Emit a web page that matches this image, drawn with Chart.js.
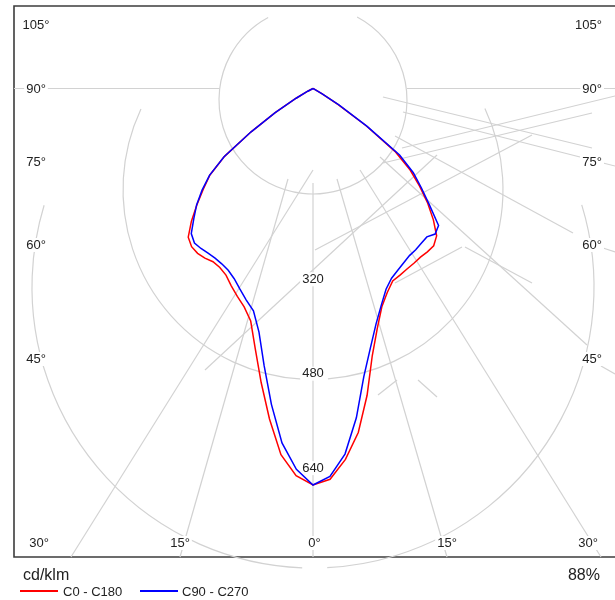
<!DOCTYPE html>
<html>
<head>
<meta charset="utf-8">
<script src="https://cdn.jsdelivr.net/npm/chart.js@4.4.1/dist/chart.umd.min.js"></script>
<style>
  html, body { margin: 0; padding: 0; background: #fff; }
  #wrap { position: relative; width: 615px; height: 600px; overflow: hidden;
          font-family: "Liberation Sans", Arial, sans-serif; color: #222; }
  #c { position: absolute; left: 0; top: 0; }
  .t { position: absolute; white-space: nowrap; line-height: 1; }
  .sw { position: absolute; height: 1.5px; }
</style>
</head>
<body>
<div id="wrap">
  <canvas id="c" width="615" height="600"></canvas>
  <div class="t" id="unit" style="left:23px; top:567px; font-size:16px;"></div>
  <div class="t" id="eff" style="right:15px; top:567px; font-size:16px;"></div>
  <div id="legend"></div>
</div>
<script>
// ---------------- data (cd/klm) ----------------
const gammaAngles = [0, 2.5, 5, 7.5, 10, 12.5, 15, 17.5, 20, 22.5, 25, 27.5, 30, 32.5, 35, 37.5,
                     40, 42.5, 45, 47.5, 50, 52.5, 55, 57.5, 60, 62.5, 65, 67.5, 70, 72.5, 75,
                     77.5, 80, 82.5, 85, 87.5, 90];
const c0   = [672, 663, 631, 588, 528, 464, 421, 388, 368, 353, 349, 345, 342, 339, 338, 336,
              326, 302, 275, 245, 215, 175, 110, 50, 18, 4, 0, 0, 0, 0, 0, 0, 0, 0, 0, 0, 0];
const c180 = [672, 657, 623, 565, 506, 452, 408, 388, 375, 362, 349, 342, 339, 341, 341, 338,
              329, 305, 278, 252, 228, 189, 128, 76, 33, 10, 0, 0, 0, 0, 0, 0, 0, 0, 0, 0, 0];
const c90  = [672, 658, 622, 563, 496, 450, 413, 385, 362, 348, 340, 333, 327, 324, 320, 317,
              322, 315, 279, 249, 222, 185, 112, 52, 18, 4, 0, 0, 0, 0, 0, 0, 0, 0, 0, 0, 0];
const c270 = [672, 646, 603, 540, 477, 423, 390, 376, 362, 349, 340, 335, 332, 331, 331, 330,
              321, 299, 279, 255, 229, 190, 128, 76, 33, 10, 0, 0, 0, 0, 0, 0, 0, 0, 0, 0, 0];
const planeLabels = ['C0 - C180', 'C90 - C270'];
const intensityTicks = [320, 480, 640];
const sideAngleLabels = ['105°', '90°', '75°', '60°', '45°'];
const bottomAngleLabels = ['30°', '15°', '0°', '15°', '30°'];
const unitLabel = 'cd/klm';
const efficiencyLabel = '88%';

// ---------------- build polar curves ----------------
function buildPlane(leftVals, rightVals) {
  const pts = [];
  for (let i = gammaAngles.length - 1; i >= 0; i--) {
    const a = gammaAngles[i] * Math.PI / 180;
    pts.push({ x: -leftVals[i] * Math.sin(a), y: -leftVals[i] * Math.cos(a) });
  }
  for (let i = 1; i < gammaAngles.length; i++) {
    const a = gammaAngles[i] * Math.PI / 180;
    pts.push({ x: rightVals[i] * Math.sin(a), y: -rightVals[i] * Math.cos(a) });
  }
  return pts;
}

// ---------------- layout ----------------
const PX_PER_CD = 0.59, OX = 313, OY = 88.5, W = 615, H = 600;

const gridPlugin = {
  id: 'polarGrid',
  beforeDatasetsDraw(chart) {
    const { ctx, scales: { x, y } } = chart;
    const px = v => x.getPixelForValue(v), py = v => y.getPixelForValue(v);
    const unit = px(1) - px(0);
    ctx.save();
    // plot frame
    ctx.strokeStyle = '#3c3c3c'; ctx.lineWidth = 1.6;
    ctx.beginPath();
    ctx.moveTo(W + 2, 6); ctx.lineTo(14, 6); ctx.lineTo(14, 557); ctx.lineTo(W + 2, 557);
    ctx.stroke();

    ctx.strokeStyle = '#d2d2d2'; ctx.lineWidth = 1.2;
    // circles (value units: centre y, radius, drawn arcs in degrees)
    const circles = [
      { cy: -19.5,  r: 159.3, arcs: [[-62, 241.5]] },
      { cy: -171.2, r: 322,   arcs: [[-25.2, 85.5], [93.3, 205.1]] },
      { cy: -336.4, r: 476.3, arcs: [[-17, 87.1], [92.2, 196.9]] }
    ];
    circles.forEach(c => c.arcs.forEach(([a0, a1]) => {
      ctx.beginPath();
      ctx.arc(px(0), py(c.cy), c.r * unit, a0 * Math.PI / 180, a1 * Math.PI / 180);
      ctx.stroke();
    }));
    // straight grid segments (value units)
    const segs = [
      [0, -160.2, 0, -794.1],
      [-42.4, -153.4, -225.4, -794.1], [40.7, -153.4, 227.1, -794.1],
      [0, -138.1, -410.2, -794.1], [79.7, -138.1, 488.1, -794.1],
      [-506.8, 0, -158.5, 0], [159.3, 0, 511.9, 0],
      [118.6, -14.4, 472.9, -100.8], [152.5, -39.8, 452.5, -116.1],
      [139.0, -80.5, 440.7, -244.9], [150.8, -100.8, 511.9, -12.7],
      [118.6, -126.3, 472.9, -41.5], [3.4, -273.7, 371.2, -78.8],
      [-183.1, -477.1, 210.2, -112.7], [113.6, -116.1, 464.4, -434.7],
      [139.0, -329.7, 252.5, -268.6], [257.6, -268.6, 371.2, -329.7],
      [178.0, -494.1, 210.2, -522.9], [110.2, -519.5, 142.4, -494.1],
      [491.5, -126.3, 511.9, -131.4], [491.5, -270.3, 511.9, -277.1],
      [488.1, -470.3, 511.9, -483.9]
    ];
    segs.forEach(([x1, y1, x2, y2]) => {
      ctx.beginPath(); ctx.moveTo(px(x1), py(y1)); ctx.lineTo(px(x2), py(y2)); ctx.stroke();
    });

    // labels with white background
    ctx.font = '13px "Liberation Sans", Arial, sans-serif';
    ctx.textBaseline = 'middle';
    const label = (txt, cx, cy, align) => {
      ctx.textAlign = align;
      const w = ctx.measureText(txt).width;
      const left = align === 'center' ? cx - w / 2 : (align === 'right' ? cx - w : cx);
      ctx.fillStyle = '#fff';
      ctx.fillRect(left - 2, cy - 7, w + 4, 14);
      ctx.fillStyle = '#222';
      ctx.fillText(txt, cx, cy);
    };
    const sideY = [25, 89, 162, 245, 359];
    sideAngleLabels.forEach((t, i) => {
      label(t, 36, sideY[i], 'center');
      label(t, 602, sideY[i], 'right');
    });
    const bottomX = [39, 180, 314.5, 447, 588];
    bottomAngleLabels.forEach((t, i) => label(t, bottomX[i], 543, 'center'));
    intensityTicks.forEach(v => label(String(v), px(0), py(-v) + 2, 'center'));
    ctx.restore();
  }
};

const ctx = document.getElementById('c').getContext('2d');
new Chart(ctx, {
  type: 'scatter',
  data: {
    datasets: [
      { label: planeLabels[0], data: buildPlane(c180, c0), showLine: true,
        borderColor: '#ff0000', backgroundColor: '#ff0000', borderWidth: 1.5, order: 2 },
      { label: planeLabels[1], data: buildPlane(c270, c90), showLine: true,
        borderColor: '#0000ff', backgroundColor: '#0000ff', borderWidth: 1.5, order: 1 }
    ]
  },
  options: {
    responsive: false,
    animation: false,
    layout: { padding: 0 },
    elements: { point: { radius: 0, hoverRadius: 0 }, line: { tension: 0 } },
    plugins: { legend: { display: false }, tooltip: { enabled: false } },
    scales: {
      x: { type: 'linear', display: false, min: -OX / PX_PER_CD, max: (W - OX) / PX_PER_CD },
      y: { type: 'linear', display: false, min: (OY - H) / PX_PER_CD, max: OY / PX_PER_CD }
    }
  },
  plugins: [gridPlugin]
});

// ---------------- texts & legend ----------------
document.getElementById('unit').textContent = unitLabel;
document.getElementById('eff').textContent = efficiencyLabel;
const legendColors = ['#ff0000', '#0000ff'];
const legendSwatchX = [20, 140];
const lg = document.getElementById('legend');
planeLabels.forEach((name, i) => {
  const sw = document.createElement('div');
  sw.className = 'sw';
  sw.style.left = legendSwatchX[i] + 'px';
  sw.style.width = '38px';
  sw.style.top = '590px';
  sw.style.background = legendColors[i];
  lg.appendChild(sw);
  const tx = document.createElement('div');
  tx.className = 't';
  tx.style.left = (legendSwatchX[i] + (i === 0 ? 43 : 42)) + 'px';
  tx.style.top = '585px';
  tx.style.fontSize = '13px';
  tx.textContent = name;
  lg.appendChild(tx);
});
</script>
</body>
</html>
